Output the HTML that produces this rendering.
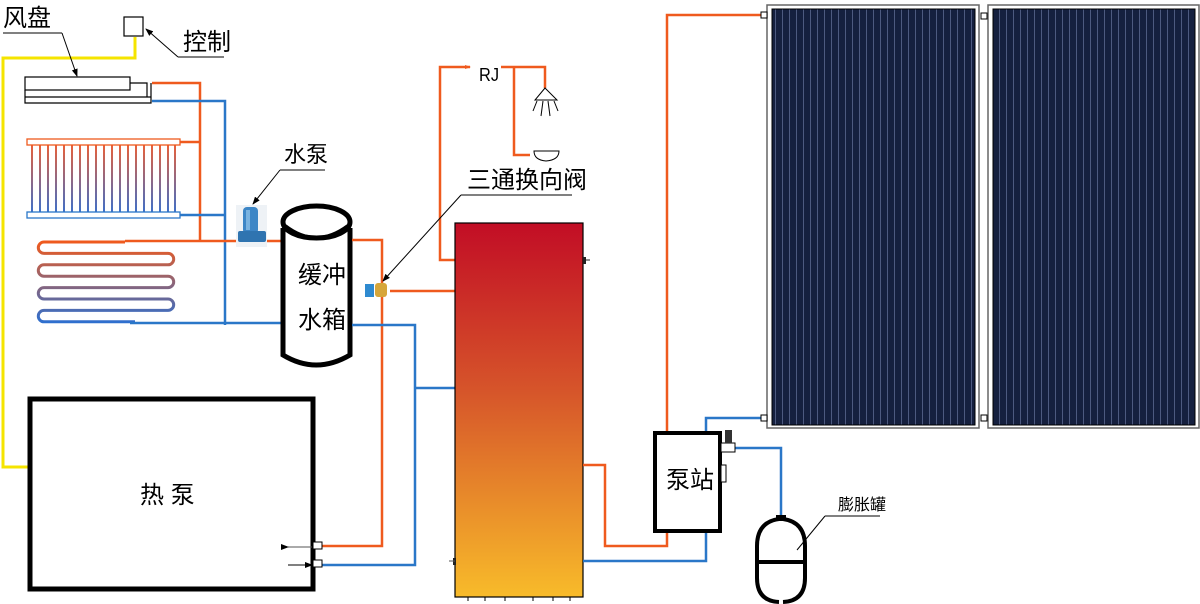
<!DOCTYPE html>
<html><head><meta charset="utf-8"><style>
html,body{margin:0;padding:0;background:#fff;}
svg{display:block}
text{font-family:"Liberation Sans","Noto Sans CJK SC",sans-serif;}
</style></head><body>
<svg width="1200" height="604" viewBox="0 0 1200 604" xmlns="http://www.w3.org/2000/svg">
<defs>
<linearGradient id="tank" x1="0" y1="0" x2="0" y2="1">
<stop offset="0" stop-color="#c20d25"/><stop offset="0.45" stop-color="#d6552a"/><stop offset="1" stop-color="#f8bb2a"/>
</linearGradient>
<linearGradient id="rad" gradientUnits="userSpaceOnUse" x1="0" y1="145" x2="0" y2="212">
<stop offset="0" stop-color="#e8603a"/><stop offset="1" stop-color="#3f6fc8"/>
</linearGradient>
<linearGradient id="coil" gradientUnits="userSpaceOnUse" x1="0" y1="242" x2="0" y2="323">
<stop offset="0" stop-color="#ef5a1e"/><stop offset="1" stop-color="#2d6fd0"/>
</linearGradient>
<pattern id="pv" width="7" height="10" patternUnits="userSpaceOnUse">
<rect width="7" height="10" fill="#15203f"/><rect x="5" width="1" height="10" fill="#4d5a80"/>
</pattern>
<marker id="ar" markerWidth="8" markerHeight="6" refX="7" refY="3" orient="auto"><path d="M0,0 L8,3 L0,6z" fill="#000"/></marker>
<marker id="ao" markerWidth="6" markerHeight="4" refX="5" refY="2" orient="auto" markerUnits="userSpaceOnUse"><path d="M0,0 L6,2 L0,4z" fill="#ef5a1e"/></marker>
</defs>

<polyline points="135,37 135,58 3,58 3,467 30,467" fill="none" stroke="#f5e400" stroke-width="3"/>
<rect x="124" y="17" width="19" height="19" fill="#fff" stroke="#000" stroke-width="1.2"/>
<text x="3" y="26" font-size="24">风盘</text>
<line x1="3" y1="33" x2="62" y2="33" stroke="#000"/>
<line x1="62" y1="33" x2="77" y2="76" stroke="#000" marker-end="url(#ar)"/>
<text x="183" y="50" font-size="24">控制</text>
<line x1="178" y1="57" x2="224" y2="57" stroke="#000"/>
<line x1="178" y1="57" x2="146" y2="29" stroke="#000" marker-end="url(#ar)"/>

<rect x="25" y="77" width="105" height="13" fill="#fff" stroke="#000" stroke-width="1.2"/>
<polyline points="130,83 147,83 147,97" fill="none" stroke="#000" stroke-width="1.2"/>
<polyline points="25,90 25,103 151,103 151,83" fill="none" stroke="#000" stroke-width="1.2"/>
<line x1="25" y1="97" x2="151" y2="97" stroke="#000" stroke-width="1.2"/>
<polyline points="152,83 200,83 200,240" fill="none" stroke="#ef5a1e" stroke-width="2.5"/>
<polyline points="152,101 225,101 225,325" fill="none" stroke="#2a77c8" stroke-width="2.5"/>

<g stroke="url(#rad)" stroke-width="2">
<line x1="32" y1="145" x2="32" y2="212"/><line x1="40" y1="145" x2="40" y2="212"/><line x1="48" y1="145" x2="48" y2="212"/><line x1="56" y1="145" x2="56" y2="212"/><line x1="64" y1="145" x2="64" y2="212"/><line x1="72" y1="145" x2="72" y2="212"/><line x1="80" y1="145" x2="80" y2="212"/><line x1="88" y1="145" x2="88" y2="212"/><line x1="96" y1="145" x2="96" y2="212"/><line x1="104" y1="145" x2="104" y2="212"/><line x1="112" y1="145" x2="112" y2="212"/><line x1="120" y1="145" x2="120" y2="212"/><line x1="128" y1="145" x2="128" y2="212"/><line x1="136" y1="145" x2="136" y2="212"/><line x1="144" y1="145" x2="144" y2="212"/><line x1="152" y1="145" x2="152" y2="212"/><line x1="160" y1="145" x2="160" y2="212"/><line x1="168" y1="145" x2="168" y2="212"/><line x1="175" y1="145" x2="175" y2="212"/>
</g>
<rect x="27" y="139" width="153" height="6" fill="#fff" stroke="#ef5a1e" stroke-width="1.3"/>
<rect x="27" y="212" width="153" height="6" fill="#fff" stroke="#2a77c8" stroke-width="1.3"/>
<line x1="180" y1="142" x2="200" y2="142" stroke="#ef5a1e" stroke-width="2.5"/>
<line x1="180" y1="215" x2="225" y2="215" stroke="#2a77c8" stroke-width="2.5"/>

<path d="M125,242 L44,242 A5.7,5.7 0 0 0 44,253.4 L168,253.4 A5.7,5.7 0 0 1 168,264.8 L44,264.8 A5.7,5.7 0 0 0 44,276.2 L168,276.2 A5.7,5.7 0 0 1 168,287.6 L44,287.6 A5.7,5.7 0 0 0 44,299 L168,299 A5.7,5.7 0 0 1 168,310.4 L44,310.4 A5.7,5.7 0 0 0 44,321.8 L135,321.8" fill="none" stroke="url(#coil)" stroke-width="3"/>
<line x1="125" y1="241" x2="285" y2="241" stroke="#ef5a1e" stroke-width="2.5"/>
<line x1="130" y1="323" x2="283" y2="323" stroke="#2a77c8" stroke-width="2.5"/>

<rect x="236" y="205" width="31" height="42" fill="#eef2f6"/>
<rect x="243" y="207" width="15" height="27" rx="4" fill="#3d86c6"/>
<rect x="246" y="210" width="4" height="20" fill="#7ab3e0"/>
<rect x="238" y="231" width="28" height="11" rx="2" fill="#2f74b0"/>
<text x="284" y="162" font-size="22">水泵</text>
<line x1="280" y1="170" x2="325" y2="170" stroke="#000"/>
<line x1="280" y1="170" x2="253" y2="204" stroke="#000" marker-end="url(#ar)"/>

<path d="M283,228 L283,355 Q316,375 350,355 L350,228" fill="#fff" stroke="#000" stroke-width="5"/>
<ellipse cx="316.5" cy="222" rx="33.5" ry="16" fill="#fff" stroke="#000" stroke-width="5"/>
<path d="M285,226 Q316,250 348,226" fill="none" stroke="#000" stroke-width="4"/>
<text x="298" y="283" font-size="24">缓冲</text>
<text x="298" y="328" font-size="24">水箱</text>

<polyline points="352,240 382,240 382,546 320,546" fill="none" stroke="#ef5a1e" stroke-width="2.5"/>
<polyline points="352,325 415,325 415,565 320,565" fill="none" stroke="#2a77c8" stroke-width="2.5"/>
<line x1="415" y1="388" x2="455" y2="388" stroke="#2a77c8" stroke-width="2.5"/>
<line x1="390" y1="291" x2="455" y2="291" stroke="#ef5a1e" stroke-width="2.5"/>
<rect x="365" y="284" width="9" height="13" fill="#2f8ad0"/>
<rect x="375" y="283" width="12" height="14" rx="3" fill="#d6a63a"/>

<polyline points="455,260 440,260 440,67 470,67" fill="none" stroke="#ef5a1e" stroke-width="2.5" marker-end="url(#ao)"/>
<text x="479" y="81" font-size="18" font-family="Liberation Serif" textLength="20" lengthAdjust="spacingAndGlyphs">RJ</text>
<polyline points="501,67 545,67 545,88" fill="none" stroke="#ef5a1e" stroke-width="2.5"/>
<polyline points="514,67 514,155 530,155" fill="none" stroke="#ef5a1e" stroke-width="2.5"/>
<path d="M545,88 L535,100 L557,100 Z" fill="#fff" stroke="#000"/>
<g stroke="#000"><line x1="537" y1="101" x2="533" y2="111"/><line x1="543" y1="101" x2="541" y2="116"/><line x1="548" y1="101" x2="550" y2="116"/><line x1="554" y1="101" x2="558" y2="111"/></g>
<path d="M534,151 L559,151 Q559,160 546,161 Q534,160 534,151 Z" fill="#fff" stroke="#000"/>
<text x="467" y="188" font-size="24">三通换向阀</text>
<line x1="461" y1="195" x2="572" y2="195" stroke="#000"/>
<line x1="461" y1="195" x2="383" y2="281" stroke="#000" marker-end="url(#ar)"/>

<rect x="455" y="223" width="128" height="374" fill="url(#tank)" stroke="#000" stroke-width="1.2"/>
<rect x="583" y="257" width="3" height="7" fill="#222"/><line x1="583" y1="260" x2="590" y2="260" stroke="#222"/>
<rect x="453" y="558" width="3" height="7" fill="#222"/><line x1="449" y1="561" x2="455" y2="561" stroke="#555"/>
<g stroke="#000"><line x1="468" y1="597" x2="468" y2="601"/><line x1="485" y1="597" x2="485" y2="601"/><line x1="505" y1="597" x2="505" y2="601"/><line x1="533" y1="597" x2="533" y2="601"/><line x1="553" y1="597" x2="553" y2="601"/><line x1="570" y1="597" x2="570" y2="601"/></g>

<rect x="30" y="399" width="283" height="190" fill="#fff" stroke="#000" stroke-width="5"/>
<text x="140" y="503" font-size="24">热 泵</text>
<rect x="313" y="542" width="9" height="7" fill="#fff" stroke="#000"/>
<rect x="313" y="560" width="9" height="7" fill="#fff" stroke="#000"/>
<line x1="288" y1="547" x2="312" y2="547" stroke="#555" marker-start="url(#ar)"/>
<line x1="288" y1="565" x2="312" y2="565" stroke="#000" marker-end="url(#ar)"/>

<polyline points="583,465 605,465 605,546 667,546 667,533" fill="none" stroke="#ef5a1e" stroke-width="2.5"/>
<polyline points="583,561 706,561 706,533" fill="none" stroke="#2a77c8" stroke-width="2.5"/>
<polyline points="667,433 667,15 762,15" fill="none" stroke="#ef5a1e" stroke-width="2.5"/>
<polyline points="706,433 706,418 762,418" fill="none" stroke="#2a77c8" stroke-width="2.5"/>
<polyline points="735,448 781,448 781,515" fill="none" stroke="#2a77c8" stroke-width="2.5"/>
<rect x="655" y="433" width="65" height="98" fill="#fff" stroke="#000" stroke-width="4"/>
<rect x="721" y="443" width="14" height="9" fill="#fff" stroke="#000"/>
<rect x="725" y="430" width="7" height="13" fill="#333"/>
<rect x="721" y="465" width="5" height="17" fill="#fff" stroke="#000"/>
<text x="666" y="488" font-size="24">泵站</text>

<rect x="776" y="515" width="10" height="6" fill="#000"/>
<path d="M779,519 Q757,522 757,546 L757,578 Q757,601 779,602 M783,602 Q805,601 805,578 L805,546 Q805,522 783,519" fill="none" stroke="#000" stroke-width="4"/>
<line x1="757" y1="562" x2="805" y2="562" stroke="#000" stroke-width="4"/>
<text x="838" y="510" font-size="16">膨胀罐</text>
<line x1="825" y1="516" x2="880" y2="516" stroke="#000"/>
<line x1="825" y1="516" x2="797" y2="550" stroke="#000"/>

<rect x="767" y="5" width="212" height="423" fill="#fff" stroke="#666" stroke-width="1.5"/>
<rect x="772" y="9" width="203" height="416" fill="url(#pv)" stroke="#000" stroke-width="1"/>
<rect x="988" y="5" width="211" height="423" fill="#fff" stroke="#666" stroke-width="1.5"/>
<rect x="993" y="9" width="202" height="416" fill="url(#pv)" stroke="#000" stroke-width="1"/>
<rect x="761" y="12" width="6" height="6" fill="#fff" stroke="#000"/>
<rect x="981" y="13" width="6" height="6" fill="#fff" stroke="#000"/>
<rect x="761" y="415" width="6" height="6" fill="#fff" stroke="#000"/>
<rect x="981" y="415" width="6" height="6" fill="#fff" stroke="#000"/>
</svg>
</body></html>
